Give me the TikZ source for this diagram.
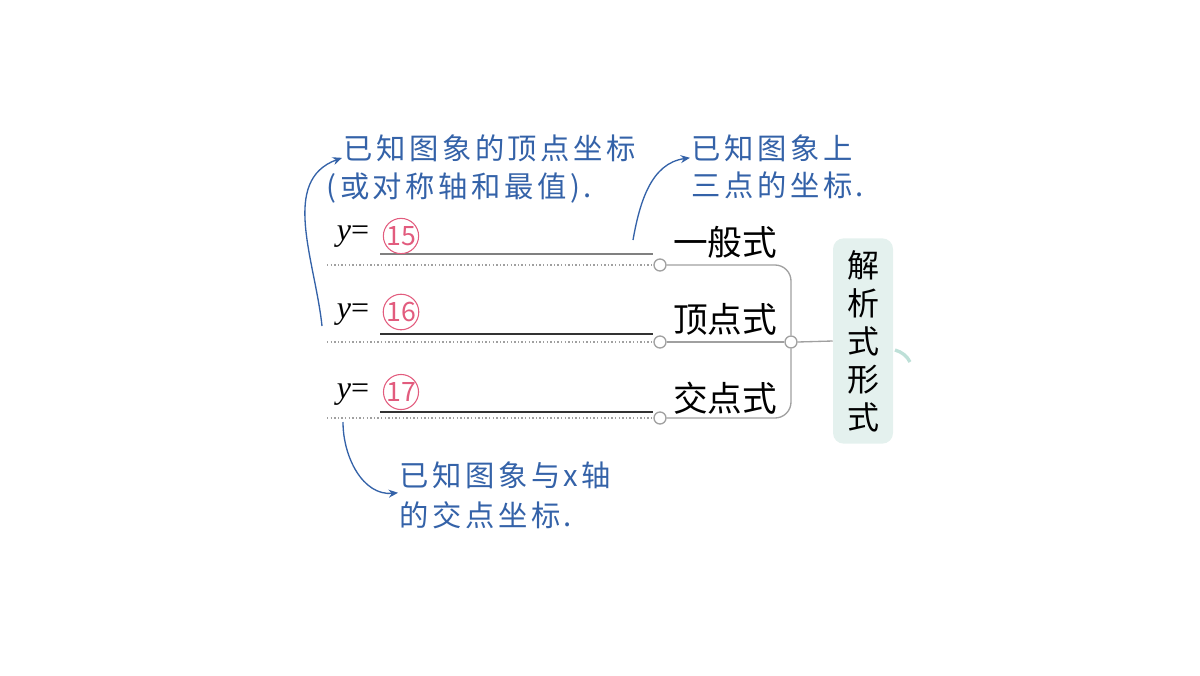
\documentclass[tikz,border=0pt]{standalone}
\usepackage{fontspec}
\usepackage{amsmath}
\newfontfamily\cjk{Noto Sans CJK SC}
\newfontfamily\handcjk[LetterSpace=12]{Noto Sans CJK SC}
\newfontfamily\eqserif{Liberation Serif}
\usetikzlibrary{arrows.meta}
\usetikzlibrary{positioning}

\definecolor{penblue}{RGB}{52,98,168}
\definecolor{tagpink}{RGB}{226,92,126}
\definecolor{barGray}{RGB}{160,160,160}
\definecolor{boxTeal}{RGB}{228,241,238}
\definecolor{arcTeal}{RGB}{190,224,216}

\tikzset{
  formlabel/.style={inner sep=1pt, font=\cjk\fontsize{26}{30}\selectfont},
  joint/.style={circle, draw=barGray, fill=white, line width=1pt, inner sep=0pt, minimum size=9pt},
  bar/.style={draw=barGray, line width=1pt},
  dotline/.style={draw=barGray, line width=1.1pt, dash pattern={on 1.1pt off 1.6pt}},
  blank/.style={line width=1pt},
  eqlabel/.style={inner sep=0pt, font=\eqserif\fontsize{24}{26}\selectfont},
  tagnum/.style={circle, draw=tagpink, line width=0.8pt, text=tagpink, inner sep=0pt, minimum size=23pt, font=\cjk\fontsize{20}{20}\selectfont},
  notetext/.style={inner sep=1pt, anchor=west, text=penblue, font=\handcjk\fontsize{22}{26}\selectfont},
  cue/.style={draw=penblue, line width=1pt, -{Stealth[length=7pt,width=6pt]}},
}

\begin{document}
\begin{tikzpicture}[x=0.75pt,y=0.75pt,yscale=-1]
    \useasboundingbox (0,0) rectangle (1200,675);
    %Form box
    \node [fill=boxTeal, rounded corners=8pt, minimum width=45pt, minimum height=154pt, align=center, inner sep=0pt, font=\cjk\fontsize{24}{28.5}\selectfont] (form) at (863,341) {解\\析\\式\\形\\式};
    \draw [arcTeal, line width=2.5pt] (895,350) .. controls (902,352) and (907,356) .. (910,362) ;
    %Joints
    \node [joint] (hub) at (791,342) {};
    \node [joint] (j1) at (660,265) {};
    \node [joint] (j2) at (660,342) {};
    \node [joint] (j3) at (660,418) {};
    %Brackets
    \draw [bar, rounded corners=12pt] (j1.east) -| (hub.north) ;
    \draw [bar, rounded corners=12pt] (j3.east) -| (hub.south) ;
    \draw [bar] (j2.east) -- (hub.west) ;
    \draw [bar] (hub.east) -- (form.west) ;
    %Form names
    \node [formlabel] (general) at (725,242) {一般式};
    \node [formlabel] (vertex) at (725,319) {顶点式};
    \node [formlabel] (roots) at (725,398) {交点式};
    %Dotted guides
    \coordinate (g1) at (327,265);
    \coordinate (g2) at (327,342);
    \coordinate (g3) at (327,418);
    \draw [dotline] (g1) -- (j1.west) ;
    \draw [dotline] (g2) -- (j2.west) ;
    \draw [dotline] (g3) -- (j3.west) ;
    %Blanks
    \draw [blank, color=barGray!80!black] (380,254) -- (653,254) ;
    \draw [blank, color=black!80] (380,334) -- (653,334) ;
    \draw [blank, color=black!80] (380,412) -- (653,412) ;
    \node [eqlabel] (eq1) at (353,237) {\itshape y\upshape=};
    \node [eqlabel] (eq2) at (353,315) {\itshape y\upshape=};
    \node [eqlabel] (eq3) at (353,395) {\itshape y\upshape=};
    \node [tagnum] (tag1) at (401,236) {15};
    \node [tagnum] (tag2) at (401,312) {16};
    \node [tagnum] (tag3) at (401,392) {17};
    %Notes
    \node [notetext] (noteA1) at (342,148) {已知图象的顶点坐标};
    \node [notetext] (noteA2) at (325,188) {(或对称轴和最值).};
    \node [notetext] (noteB1) at (690,148) {已知图象上};
    \node [notetext] (noteB2) at (690,185) {三点的坐标.};
    \node [notetext] (noteC1) at (398,475) {已知图象与{\itshape x}轴};
    \node [notetext] (noteC2) at (398,515) {的交点坐标.};
    %Arrows
    \coordinate (fromA) at (322,326);
    \coordinate (fromB) at (633,240);
    \coordinate (fromC) at (343,422);
    \draw [cue] (fromA) to[out=-96,in=160] ([yshift=-4pt]noteA1.south west) ;
    \draw [cue] (fromB) to[out=-80,in=172] ([yshift=-4pt]noteB1.south west) ;
    \draw [cue] (fromC) to[out=90,in=175] ([yshift=2pt]noteC1.south west) ;
\end{tikzpicture}
\end{document}
